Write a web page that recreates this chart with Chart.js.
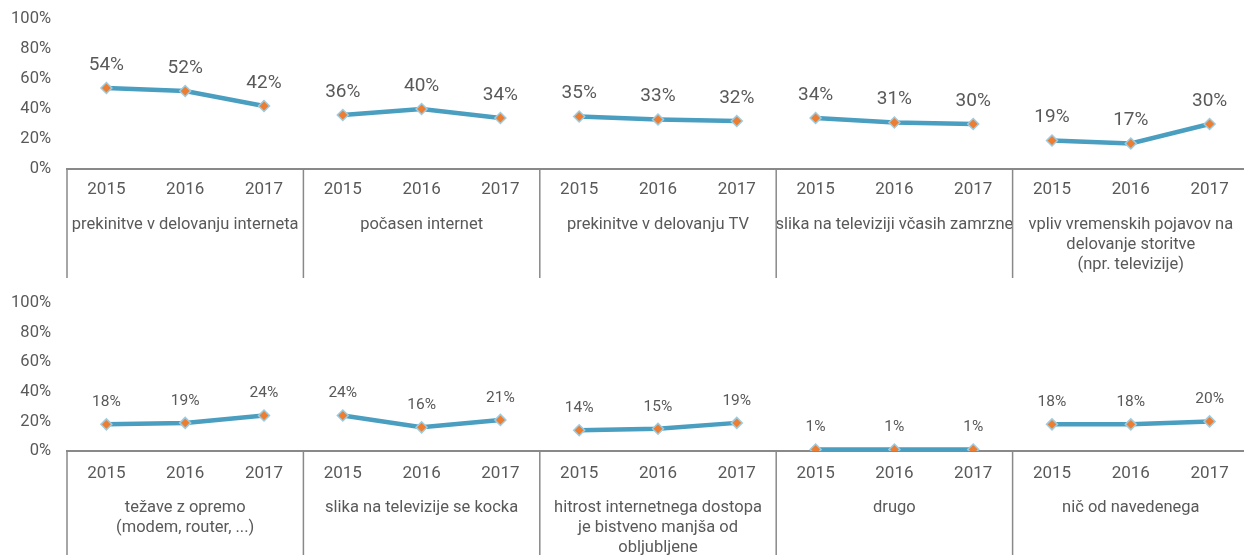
<!DOCTYPE html>
<html>
<head>
<meta charset="utf-8">
<script src="https://cdn.jsdelivr.net/npm/chart.js@4/dist/chart.umd.min.js"></script>
<style>
  html, body { margin: 0; padding: 0; background: #fff; overflow: hidden; }
  .panel { position: relative; width: 1256px; }
  #top-panel { height: 278px; }
  #bottom-panel { height: 277px; }
</style>
</head>
<body>
<div class="panel" id="top-panel"><canvas id="top-chart"></canvas></div>
<div class="panel" id="bottom-panel"><canvas id="bottom-chart"></canvas></div>
<script>
const years = ["2015", "2016", "2017"];
const yTicks = [0, 20, 40, 60, 80, 100];

const topGroups = [
  "prekinitve v delovanju interneta",
  "počasen internet",
  "prekinitve v delovanju TV",
  "slika na televiziji včasih zamrzne",
  ["vpliv vremenskih pojavov na", "delovanje storitve", "(npr. televizije)"]
];
const topValues = [
  [54, 52, 42],
  [36, 40, 34],
  [35, 33, 32],
  [34, 31, 30],
  [19, 17, 30]
];

const bottomGroups = [
  ["težave z opremo", "(modem, router, ...)"],
  "slika na televizije se kocka",
  ["hitrost internetnega dostopa", "je bistveno manjša od", "obljubljene"],
  "drugo",
  "nič od navedenega"
];
const bottomValues = [
  [18, 19, 24],
  [24, 16, 21],
  [14, 15, 19],
  [1, 1, 1],
  [18, 18, 20]
];

const FONT = "Roboto, 'Open Sans', sans-serif";
const TEXT = "#595959";
const AXIS = "#898989";
const LINE = "#4A9EC0";

// vertical dividers between the groups, from the axis line down
const dividers = {
  id: "dividers",
  afterDraw(chart) {
    const xs = chart.scales.x;
    const ctx = chart.ctx;
    const n = xs.getLabels().length;
    ctx.save();
    ctx.strokeStyle = AXIS;
    ctx.lineWidth = 1.5;
    for (let k = 0; k <= n; k += 3) {
      let px;
      if (k === 0) px = xs.left;
      else if (k === n) px = xs.right;
      else px = (xs.getPixelForValue(k - 1) + xs.getPixelForValue(k)) / 2;
      ctx.beginPath();
      ctx.moveTo(px, xs.top);
      ctx.lineTo(px, chart.height);
      ctx.stroke();
    }
    ctx.restore();
  }
};

// value labels above each point
const valueLabels = {
  id: "valueLabels",
  afterDatasetsDraw(chart, args, opts) {
    const ctx = chart.ctx;
    const ds = chart.data.datasets[0];
    const meta = chart.getDatasetMeta(0);
    ctx.save();
    ctx.font = opts.size + "px " + FONT;
    ctx.fillStyle = TEXT;
    ctx.textAlign = "center";
    ctx.textBaseline = "middle";
    meta.data.forEach((pt, i) => {
      ctx.fillText(ds.data[i] + "%", pt.x, pt.y - opts.offset);
    });
    ctx.restore();
  }
};

function makeChart(canvasId, groups, values, cfg) {
  const labels = [];
  groups.forEach(() => years.forEach(y => labels.push(y)));
  const data = values.flat();

  return new Chart(document.getElementById(canvasId), {
    type: "line",
    data: {
      labels: labels,
      datasets: [{
        data: data,
        borderColor: LINE,
        borderWidth: 4.5,
        pointStyle: "rectRot",
        pointRadius: 5.5,
        pointHoverRadius: 5.5,
        pointBackgroundColor: "#ED7D31",
        pointBorderColor: "#9CCCE2",
        pointBorderWidth: 1.5,
        segment: {
          borderColor: ctx => ctx.p1DataIndex % 3 === 0 ? "transparent" : LINE
        }
      }]
    },
    options: {
      responsive: true,
      maintainAspectRatio: false,
      animation: false,
      layout: { padding: { top: cfg.padTop, left: 0, right: 3, bottom: 0 } },
      plugins: {
        legend: { display: false },
        tooltip: { enabled: false },
        valueLabels: { size: cfg.labelSize, offset: cfg.labelOffset }
      },
      scales: {
        y: {
          min: 0,
          max: 100,
          afterBuildTicks: s => { s.ticks = yTicks.map(v => ({ value: v })); },
          afterFit: s => {
            s.width = 67;
            s.paddingTop = 0;
            s.paddingBottom = 0;
          },
          grid: { display: false, drawTicks: false },
          border: { display: false },
          ticks: {
            padding: 16,
            color: TEXT,
            font: { family: FONT, size: 16.5 },
            callback: v => v + "%"
          }
        },
        x: {
          offset: true,
          afterFit: s => { s.height = 38; },
          grid: { display: false, drawTicks: false },
          border: { display: true, color: AXIS, width: 2 },
          ticks: {
            autoSkip: false,
            maxRotation: 0,
            padding: cfg.yearPad,
            color: TEXT,
            font: { family: FONT, size: 17 }
          }
        },
        x2: {
          type: "category",
          labels: groups,
          position: "bottom",
          offset: true,
          afterFit: s => { s.height = cfg.groupHeight; },
          grid: { display: false, drawTicks: false },
          border: { display: false },
          ticks: {
            autoSkip: false,
            maxRotation: 0,
            padding: cfg.groupPad,
            color: TEXT,
            font: { family: FONT, size: 16.5, lineHeight: 1.2 }
          }
        }
      }
    },
    plugins: [dividers, valueLabels]
  });
}

makeChart("top-chart", topGroups, topValues, {
  padTop: 19, groupHeight: 71, yearPad: 11, groupPad: 8, labelSize: 19, labelOffset: 23
});
makeChart("bottom-chart", bottomGroups, bottomValues, {
  padTop: 25, groupHeight: 66, yearPad: 13, groupPad: 9, labelSize: 15.5, labelOffset: 22
});
</script>
</body>
</html>
